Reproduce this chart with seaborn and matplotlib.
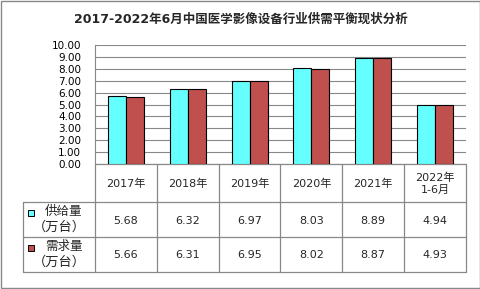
import matplotlib
matplotlib.use("Agg")
import matplotlib.pyplot as plt
import seaborn as sns
import pandas as pd
from matplotlib.lines import Line2D
from matplotlib.patches import Rectangle

title = "2017-2022年6月中国医学影像设备行业供需平衡现状分析"
categories = ["2017年", "2018年", "2019年", "2020年", "2021年", "2022年\n1-6月"]
supply = [5.68, 6.32, 6.97, 8.03, 8.89, 4.94]
demand = [5.66, 6.31, 6.95, 8.02, 8.87, 4.93]
series_names = ["供给量\n（万台）", "需求量\n（万台）"]
colors = ["#66FFFF", "#C0504D"]

sns.set_theme(style="white")
plt.rcParams['font.family'] = ['DejaVu Sans', 'Noto Sans CJK SC']

W, H = 481, 289
fig = plt.figure(figsize=(W / 100, H / 100), dpi=100)
fig.patch.set_facecolor("white")

def fx(x):
    return x / W

def fy(y):
    return 1 - y / H

# overlay for table and borders in pixel coords
ov = fig.add_axes([0, 0, 1, 1], zorder=0)
ov.set_xlim(0, W)
ov.set_ylim(H, 0)
ov.axis("off")

ax = fig.add_axes([fx(95), fy(164), fx(466 - 95), (164 - 45) / H], zorder=1)
ax.patch.set_alpha(0)

df = pd.DataFrame({
    "cat": categories * 2,
    "val": supply + demand,
    "series": [series_names[0]] * len(categories) + [series_names[1]] * len(categories),
})
sns.barplot(data=df, x="cat", y="val", hue="series", palette=colors, width=0.58,
            edgecolor="black", linewidth=0.8, ax=ax, legend=False, saturation=1)
ax.set_ylim(0, 10)
ax.set_xlim(-0.5, len(categories) - 0.5)
ax.set_yticks(range(0, 11))
ax.set_yticklabels([f"{v:.2f}" for v in range(0, 11)], fontsize=7.5)
ax.tick_params(axis="y", length=0, pad=10, colors="black")
ax.set_xticks([])
ax.set_xlabel("")
ax.set_ylabel("")
ax.yaxis.grid(True, color="#888888", linewidth=0.8)
ax.set_axisbelow(True)
for s in ["top", "right", "bottom"]:
    ax.spines[s].set_visible(False)
ax.spines["left"].set_color("#888888")
ax.spines["left"].set_linewidth(0.8)

# Title
fig.text(0.5, fy(19), title, ha="center", va="center", fontsize=9, fontweight="bold",
         family=['DejaVu Sans', 'Noto Sans CJK SC'])

# Table
lc = "#888888"
lw = 0.9
x_left, x0, x1 = 23, 95, 466
rows_y = [164, 202, 237, 272]
ncol = len(categories)
colw = (x1 - x0) / ncol
# horizontal lines
ov.add_line(Line2D([x0, x1], [rows_y[0]] * 2, color=lc, lw=lw))
for y in rows_y[1:]:
    ov.add_line(Line2D([x_left, x1], [y, y], color=lc, lw=lw))
# vertical lines
for i in range(ncol + 1):
    xv = x0 + i * colw
    ov.add_line(Line2D([xv, xv], [rows_y[0], rows_y[3]], color=lc, lw=lw))
ov.add_line(Line2D([x_left, x_left], [rows_y[1], rows_y[3]], color=lc, lw=lw))

fam = ['DejaVu Sans', 'Noto Sans CJK SC']
for i, c in enumerate(categories):
    cx = x0 + (i + 0.5) * colw
    ov.text(cx, (rows_y[0] + rows_y[1]) / 2 + 1, c, ha="center", va="center",
            fontsize=8, family=fam, linespacing=1.3)
    ov.text(cx, (rows_y[1] + rows_y[2]) / 2 + 1, f"{supply[i]:.2f}", ha="center", va="center",
            fontsize=8, family=fam)
    ov.text(cx, (rows_y[2] + rows_y[3]) / 2 + 1, f"{demand[i]:.2f}", ha="center", va="center",
            fontsize=8, family=fam)

for r, (name, col) in enumerate(zip(series_names, colors)):
    ytop = rows_y[1 + r]
    ov.add_patch(Rectangle((28, ytop + 7.5), 6.5, 6.5, facecolor=col, edgecolor="black", lw=0.7))
    line1, line2 = name.split("\n")
    ov.text(45, ytop + 9.5, line1, ha="left", va="center", fontsize=9, family=['Noto Sans CJK SC'])
    ov.text(33, ytop + 25, line2, ha="left", va="center", fontsize=9.5, family=['Noto Sans CJK SC'])

# outer border
ov.add_patch(Rectangle((0.5, 0.5), W - 1.5, H - 1.5, fill=False, edgecolor="#888888", lw=1))

fig.savefig("out.png", dpi=100, facecolor="white")
